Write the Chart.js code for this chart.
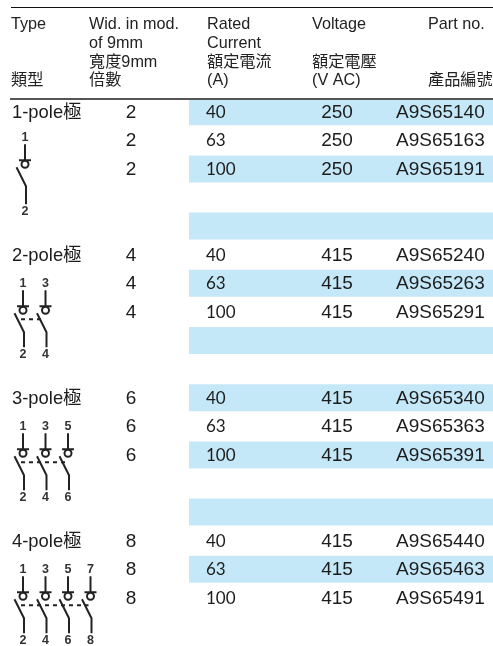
<!DOCTYPE html>
<html>
<head>
<meta charset="utf-8">
<style>
  html, body { margin: 0; padding: 0; background: #fff; }
  canvas { display: block; }
</style>
<script src="https://cdn.jsdelivr.net/npm/chart.js@4/dist/chart.umd.min.js"></script>
</head>
<body>
<canvas id="tableChart" width="493" height="646"></canvas>
<script>
// Table values, one entry per row (null = blank row)
const poleNames = ['1-pole極', null, null, null, null, '2-pole極', null, null, null, null, '3-pole極', null, null, null, null, '4-pole極', null, null];
const widths = [2, 2, 2, null, null, 4, 4, 4, null, null, 6, 6, 6, null, null, 8, 8, 8];
const currents = [40, 63, 100, null, null, 40, 63, 100, null, null, 40, 63, 100, null, null, 40, 63, 100];
const voltages = [250, 250, 250, null, null, 415, 415, 415, null, null, 415, 415, 415, null, null, 415, 415, 415];
const partNumbers = ['A9S65140', 'A9S65163', 'A9S65191', null, null, 'A9S65240', 'A9S65263', 'A9S65291', null, null, 'A9S65340', 'A9S65363', 'A9S65391', null, null, 'A9S65440', 'A9S65463', 'A9S65491'];
const shaded = [1, 0, 1, 0, 1, 0, 1, 0, 1, 0, 1, 0, 1, 0, 1, 0, 1, 0];

// Header lines for each column
const headType = ['Type', '', '', '類型'];
const headWidth = ['Wid. in mod.', 'of 9mm', '寬度9mm', '倍數'];
const headCurrent = ['Rated', 'Current', '額定電流', '(A)'];
const headVoltage = ['Voltage', '', '額定電壓', '(V AC)'];
const headPart = ['Part no.', '', '', '產品編號'];

// Terminal numbers of the wiring symbols, top and bottom
const symbolRows = [0, 5, 10, 15];
const symbolTop = [['1'], ['1', '3'], ['1', '3', '5'], ['1', '3', '5', '7']];
const symbolBottom = [['2'], ['2', '4'], ['2', '4', '6'], ['2', '4', '6', '8']];

const latin = '"Liberation Sans", "Noto Sans CJK TC", sans-serif';
const bandColor = '#c5e8f8';
const textColor = '#1c1c1c';

function drawSymbol(ctx, x0, y, top, bottom, tall) {
    ctx.strokeStyle = '#222';
    ctx.fillStyle = '#333';
    ctx.lineWidth = 2;
    ctx.font = 'bold 12.5px ' + latin;
    ctx.textAlign = 'center';
    ctx.textBaseline = 'middle';
    top.forEach(function(label, i) {
        const x = x0 + i * 22.5;
        ctx.fillText(label, x, y);
        ctx.fillText(bottom[i], x, y + tall);
        ctx.beginPath();
        ctx.moveTo(x, y + 7);
        ctx.lineTo(x, y + 23);
        ctx.moveTo(x - 6, y + 23);
        ctx.lineTo(x + 6, y + 23);
        ctx.moveTo(x + 3.5, y + 27);
        ctx.arc(x, y + 27, 3.5, 0, Math.PI * 2);
        ctx.moveTo(x - 8.5, y + 30);
        ctx.lineTo(x + 1, y + 49);
        ctx.lineTo(x + 1, y + tall - 7);
        ctx.stroke();
    });
    if (top.length > 1) {
        ctx.save();
        ctx.setLineDash([4, 4]);
        ctx.beginPath();
        ctx.moveTo(x0 - 2, y + 36);
        ctx.lineTo(x0 + (top.length - 1) * 22.5 - 2, y + 36);
        ctx.stroke();
        ctx.restore();
    }
}

const tableText = {
    id: 'tableText',
    afterDraw: function(chart) {
        const ctx = chart.ctx;
        const x = chart.scales.x;
        const y = chart.scales.y;
        ctx.save();

        // Rules
        ctx.fillStyle = '#111';
        ctx.fillRect(x.getPixelForValue(11), 7, 482, 1);
        ctx.fillStyle = '#555';
        ctx.fillRect(x.getPixelForValue(10), 98, 483, 2);

        // Header
        ctx.fillStyle = '#222';
        ctx.textAlign = 'left';
        ctx.textBaseline = 'alphabetic';
        ctx.font = '16.2px ' + latin;
        const headers = [[11, headType], [89, headWidth], [207, headCurrent], [312, headVoltage], [428, headPart]];
        const headBase = [29, 48, 67, 85];
        headers.forEach(function(col) {
            col[1].forEach(function(line, i) {
                if (line) ctx.fillText(line, x.getPixelForValue(col[0]), headBase[i]);
            });
        });

        // Rows
        ctx.fillStyle = textColor;
        partNumbers.forEach(function(part, i) {
            const base = y.getPixelForValue(i) + 6;
            if (poleNames[i]) {
                ctx.textAlign = 'left';
                ctx.font = '18.4px ' + latin;
                ctx.fillText(poleNames[i], x.getPixelForValue(12), base);
            }
            if (part === null) return;
            ctx.font = '19px ' + latin;
            ctx.textAlign = 'center';
            ctx.fillText(widths[i], x.getPixelForValue(131), base);
            ctx.fillText(voltages[i], x.getPixelForValue(337), base);
            ctx.textAlign = 'left';
            ctx.fillText(part, x.getPixelForValue(396), base);
            ctx.font = '17px Lato, sans-serif';
            ctx.fillText(currents[i], x.getPixelForValue(206), base);
        });

        // Wiring symbols
        symbolRows.forEach(function(row, i) {
            const top = y.getPixelForValue(row) + (i === 0 ? 25.5 : 28.5);
            drawSymbol(ctx, x.getPixelForValue(i === 0 ? 25 : 23), top, symbolTop[i], symbolBottom[i], i === 0 ? 74 : 71);
        });
        ctx.restore();
    }
};

new Chart(document.getElementById('tableChart').getContext('2d'), {
    type: 'bar',
    data: {
        labels: partNumbers.map(function(p, i) { return p || 'blank' + i; }),
        datasets: [{
            data: shaded.map(function(s) { return s ? [189, 493] : null; }),
            backgroundColor: bandColor,
            borderWidth: 0,
            barPercentage: 1,
            categoryPercentage: 27 / 28.6
        }]
    },
    plugins: [tableText],
    options: {
        indexAxis: 'y',
        responsive: false,
        animation: false,
        devicePixelRatio: 1,
        layout: { padding: { top: 97.4, bottom: 33.8, left: 0, right: 0 } },
        plugins: { legend: { display: false }, tooltip: { enabled: false } },
        scales: {
            x: { type: 'linear', min: 0, max: 493, display: false },
            y: { type: 'category', display: false }
        }
    }
});
</script>
</body>
</html>
